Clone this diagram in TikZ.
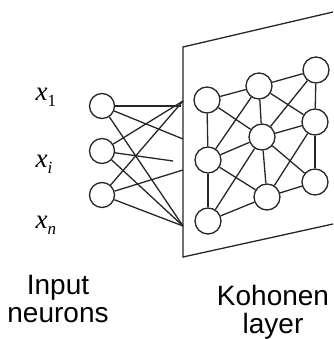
\documentclass[tikz,border=0pt]{standalone}
\usepackage{amsmath}
\usepackage{fontspec}
\setsansfont{Liberation Sans}
\newfontfamily\labelfont{Liberation Serif}
\newcommand*{\InLabel}[1]{%
  {\itshape x}\raisebox{-6pt}{\fontsize{17}{17}\selectfont #1}}

\begin{document}
\begin{tikzpicture}[
  x=1pt, y=-1pt,
  line width=1.3pt,
  draw=black!85,
  neuron/.style={circle, draw, minimum size=25pt, inner sep=0pt},
  kohonen node/.style={circle, draw, minimum size=26pt, inner sep=0pt},
  caption/.style={font=\sffamily\fontsize{28}{28}\selectfont, align=center,
    inner sep=0pt, anchor=north},
  input label/.style={font=\labelfont\fontsize{27}{29}\selectfont,
    inner sep=0pt, anchor=base west},
]
  \useasboundingbox (0,0) rectangle (333,339);

  % The plane of the Kohonen layer
  \path
    (183,47)  coordinate (PTL)
    (183,257) coordinate (PBL)
    (333,12)  coordinate (PTR)
    (333,224) coordinate (PBR)
  ;
  \draw (PTR) -- (PTL) -- (PBL) -- (PBR);

  % Input neurons, node names: in1, in2, in3
  \foreach \y [count=\i] in {106, 151, 195} {
    \node[neuron] (in\i) at (102,\y) {};
  }
  \foreach \t/\y [count=\i] in {1/101, \textit{i}/167, \textit{n}/228} {
    \node[input label] (lab\i) at (35,\y) {\InLabel{\t}};
  }

  % Points where the input lines meet the plane
  \foreach \y [count=\i] in {101, 139, 170, 226} {
    \coordinate (e\i) at (183,\y);
  }
  \coordinate (h1) at (181,106);
  \coordinate (h2) at (173,161);

  \draw (in1) -- (h1);
  \draw (in1) -- (e2);
  \draw (in1) -- (e4);
  \draw (in2) -- (e1);
  \draw (in2) -- (h2);
  \draw (in2) -- (e4);
  \draw (in3) -- (e1);
  \draw (in3) -- (e3);
  \draw (in3) -- (e4);

  % Kohonen nodes, node names: k<row><column>
  \foreach \x/\y/\n in {207/100/11, 259/86/12, 316/70/13,
                        208/160/21, 262/137/22, 315/122/23,
                        208/221/31, 267/197/32, 315/182/33} {
    \node[kohonen node] (k\n) at (\x,\y) {};
  }

  % Grid edges and the crossing diagonals of each cell
  \foreach \r in {1, 2, 3} {
    \foreach \c/\d in {1/2, 2/3} {
      \draw (k\r\c) -- (k\r\d);
      \draw (k\c\r) -- (k\d\r);
    }
  }
  \foreach \r/\s in {1/2, 2/3} {
    \foreach \c/\d in {1/2, 2/3} {
      \draw (k\r\c) -- (k\s\d);
      \draw (k\r\d) -- (k\s\c);
    }
  }

  % Captions
  \node[caption] (inputcap) at (58,275) {Input\\neurons};
  \node[caption] (kohocap) at (273,285) {Kohonen\\layer};
\end{tikzpicture}
\end{document}
